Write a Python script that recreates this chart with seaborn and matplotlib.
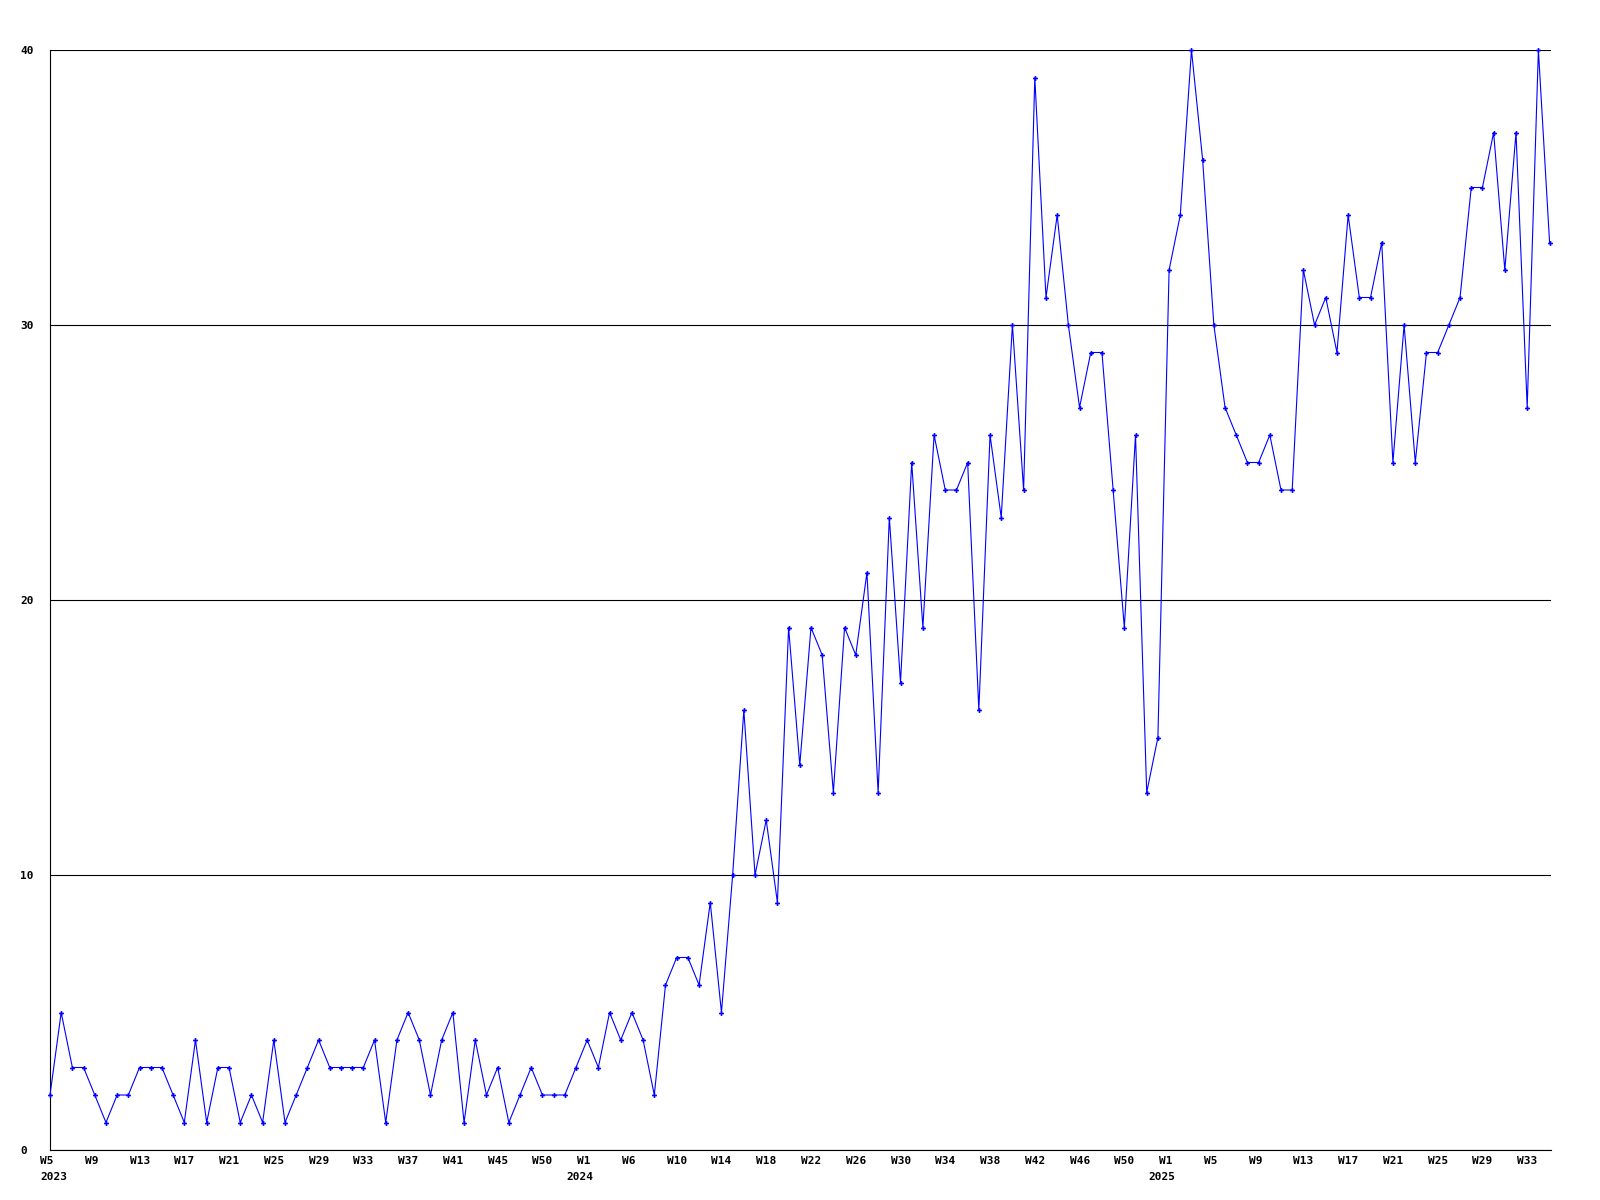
import numpy as np
import pandas as pd
import matplotlib
matplotlib.use("Agg")
import matplotlib.pyplot as plt
import matplotlib.transforms as mtransforms
import seaborn as sns

# weekly counts, 2023 W5 .. 2025 W35
counts_2023 = [2, 5, 3, 3, 2, 1, 2, 2, 3, 3, 3, 2, 1, 4, 1, 3, 3, 1, 2, 1, 4, 1, 2, 3,
               4, 3, 3, 3, 3, 4, 1, 4, 5, 4, 2, 4, 5, 1, 4, 2, 3, 1, 2, 3, 2, 2, 2, 3]
counts_2024 = [4, 3, 5, 4, 5, 4, 2, 6, 7, 7, 6, 9, 5, 10, 16, 10, 12, 9, 19, 14, 19, 18,
               13, 19, 18, 21, 13, 23, 17, 25, 19, 26, 24, 24, 25, 16, 26, 23, 30, 24,
               39, 31, 34, 30, 27, 29, 29, 24, 19, 26, 13, 15]
counts_2025 = [32, 34, 40, 36, 30, 27, 26, 25, 25, 26, 24, 24, 32, 30, 31, 29, 34, 31,
               31, 33, 25, 30, 25, 29, 29, 30, 31, 35, 35, 37, 32, 37, 27, 40, 33]

week_labels = ["W5", "W9", "W13", "W17", "W21", "W25", "W29", "W33", "W37", "W41",
               "W45", "W50", "W1", "W6", "W10", "W14", "W18", "W22", "W26", "W30",
               "W34", "W38", "W42", "W46", "W50", "W1", "W5", "W9", "W13", "W17",
               "W21", "W25", "W29", "W33"]
years = ["2023", "2024", "2025"]
y_ticks = [0, 10, 20, 30, 40]

counts = counts_2023 + counts_2024 + counts_2025
df = pd.DataFrame({"week": np.arange(len(counts)), "count": counts})

sns.set_style("white")
plt.rcParams["font.family"] = ["DejaVu Sans Mono"]
plt.rcParams["font.weight"] = "bold"
plt.rcParams["font.size"] = 8

fig, ax = plt.subplots(figsize=(16, 12), dpi=100)
fig.subplots_adjust(left=50 / 1600, right=1550.7 / 1600, bottom=1 - 1150 / 1200, top=1 - 50 / 1200)

sns.lineplot(data=df, x="week", y="count", ax=ax, color="#0000ff", linewidth=0.8,
             marker="P", markersize=3.5, markeredgewidth=0, clip_on=False, zorder=3)

ax.set_xlim(0, 134.1)
ax.set_ylim(0, 40)
ax.set_xlabel("")
ax.set_ylabel("")

# y axis
ax.set_yticks(y_ticks)
ax.set_yticklabels([str(v) for v in y_ticks])
ax.tick_params(axis="y", length=0, pad=21.6, colors="black")
for lbl in ax.get_yticklabels():
    lbl.set_ha("left")
ax.grid(axis="y", color="black", linewidth=0.8)
ax.grid(axis="x", visible=False)

# x axis, a label every 4 weeks
tick_pos = np.arange(len(week_labels)) * 4
ax.set_xticks(tick_pos)
ax.set_xticklabels(week_labels)
ax.tick_params(axis="x", length=0, pad=4, colors="black")
shift = mtransforms.ScaledTranslation(-10 / 100, 0, fig.dpi_scale_trans)
for lbl in ax.get_xticklabels():
    lbl.set_ha("left")
    lbl.set_transform(lbl.get_transform() + shift)

# year under first week of each year
year_pos = [tick_pos[0]] + [p for p, w in zip(tick_pos, week_labels) if w == "W1"]
for i, (p, yr) in enumerate(zip(year_pos, years)):
    dx = -7.2 if i == 0 else -15.1
    ax.annotate(yr, xy=(p, 0), xycoords=("data", "axes fraction"),
                xytext=(dx, -15.5), textcoords="offset points",
                ha="left", va="top", color="black")

for side in ["top", "right"]:
    ax.spines[side].set_visible(False)
for side in ["left", "bottom"]:
    ax.spines[side].set_color("black")
    ax.spines[side].set_linewidth(0.8)

fig.savefig("out.png", dpi=100, facecolor="white")
